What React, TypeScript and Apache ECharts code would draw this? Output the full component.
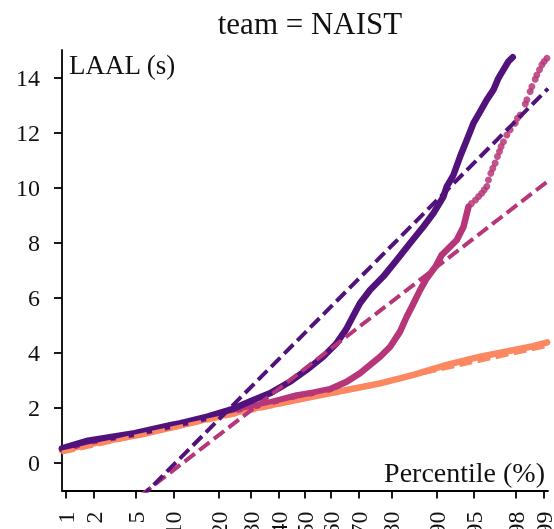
import React, { useEffect, useRef } from "react";
import * as echarts from "echarts";

// Percentile tick labels of the probability axis
const percentTicks = [1, 2, 5, 10, 20, 30, 40, 50, 60, 70, 80, 90, 95, 98, 99];
const yTicks = [0, 2, 4, 6, 8, 10, 12, 14];
const xRangePct = [0.9, 99.1];
const yRange = [-1, 15];

// [theoretical normal quantile, LAAL (s)]
const purplePts: number[][] = [
  [-2.366, 0.53], [-2.113, 0.81], [-1.658, 1.08], [-1.3, 1.38], [-1.22, 1.44],
  [-0.95, 1.68], [-0.7, 1.97], [-0.537, 2.23], [-0.342, 2.53], [-0.147, 2.95],
  [0.016, 3.38], [0.177, 3.86], [0.308, 4.35], [0.4, 4.85], [0.47, 5.35],
  [0.535, 5.8], [0.633, 6.28], [0.762, 6.77], [0.893, 7.37], [1.022, 7.98],
  [1.152, 8.58], [1.25, 9.07], [1.347, 9.67], [1.38, 10.04], [1.444, 10.45],
  [1.51, 11.13], [1.575, 11.73], [1.64, 12.34], [1.705, 12.76], [1.769, 13.19],
  [1.834, 13.55], [1.882, 13.97], [1.931, 14.28], [1.98, 14.58], [2.022, 14.74],
];

const magentaPts: number[][] = [
  [-2.366, 0.5], [-2.05, 0.8], [-1.65, 1.06], [-1.25, 1.38], [-0.95, 1.63],
  [-0.7, 1.9], [-0.406, 2.14], [-0.245, 2.29], [-0.082, 2.45], [0.08, 2.55],
  [0.243, 2.68], [0.405, 2.95], [0.535, 3.26], [0.63, 3.55], [0.731, 3.86],
  [0.829, 4.22], [0.925, 4.77], [0.99, 5.31], [1.05, 5.75], [1.12, 6.28],
  [1.18, 6.68], [1.27, 7.13], [1.33, 7.55], [1.478, 8.1], [1.543, 8.58],
  [1.592, 9.31],
];

const magentaTail: number[][] = [
  [1.62, 9.42], [1.66, 9.55], [1.69, 9.68], [1.72, 9.8], [1.745, 9.92], [1.77, 10.04],
  [1.786, 10.28], [1.809, 10.52], [1.828, 10.7], [1.851, 10.89], [1.873, 11.13],
  [1.893, 11.31], [1.909, 11.49], [1.932, 11.67], [1.965, 11.91], [1.997, 12.1],
  [2.046, 12.34], [2.068, 12.52], [2.095, 12.64], [2.144, 13.04], [2.16, 13.19],
  [2.192, 13.49], [2.209, 13.67], [2.241, 13.94], [2.257, 14.09], [2.283, 14.28],
  [2.306, 14.46], [2.328, 14.58], [2.355, 14.7],
];

const orangePts: number[][] = [
  [-2.366, 0.46], [-2.0, 0.76], [-1.6, 1.03], [-1.22, 1.36], [-0.895, 1.66],
  [-0.57, 1.92], [-0.245, 2.17], [0.08, 2.41], [0.405, 2.65], [0.732, 2.89],
  [1.056, 3.2], [1.38, 3.56], [1.705, 3.86], [2.029, 4.1], [2.195, 4.22],
  [2.357, 4.38],
];

// dashed reference (fit) lines, endpoints
const purpleFit: number[][] = [[-1.6, -1.27], [2.366, 13.6]];
const magentaFit: number[][] = [[-1.6, -1.18], [2.366, 10.24]];
const orangeFit: number[][] = [[-2.366, 0.38], [2.366, 4.26]];

const PURPLE = "#51127c";
const MAGENTA = "#b63679";
const ORANGE = "#fb8861";
const FONT = "'Liberation Serif', 'DejaVu Serif', serif";

function probit(p: number): number {
  const a = [-3.969683028665376e1, 2.209460984245205e2, -2.759285104469687e2, 1.38357751867269e2, -3.066479806614716e1, 2.506628277459239];
  const b = [-5.447609879822406e1, 1.615858368580409e2, -1.556989798598866e2, 6.680131188771972e1, -1.328068155288572e1];
  const c = [-7.784894002430293e-3, -3.223964580411365e-1, -2.400758277161838, -2.549732539343734, 4.374664141464968, 2.938163982698783];
  const d = [7.784695709041462e-3, 3.224671290700398e-1, 2.445134137142996, 3.754408661907416];
  const pl = 0.02425;
  let q: number, r: number;
  if (p < pl) {
    q = Math.sqrt(-2 * Math.log(p));
    return (((((c[0] * q + c[1]) * q + c[2]) * q + c[3]) * q + c[4]) * q + c[5]) / ((((d[0] * q + d[1]) * q + d[2]) * q + d[3]) * q + 1);
  }
  if (p <= 1 - pl) {
    q = p - 0.5;
    r = q * q;
    return ((((((a[0] * r + a[1]) * r + a[2]) * r + a[3]) * r + a[4]) * r + a[5]) * q) / (((((b[0] * r + b[1]) * r + b[2]) * r + b[3]) * r + b[4]) * r + 1);
  }
  q = Math.sqrt(-2 * Math.log(1 - p));
  return -(((((c[0] * q + c[1]) * q + c[2]) * q + c[3]) * q + c[4]) * q + c[5]) / ((((d[0] * q + d[1]) * q + d[2]) * q + d[3]) * q + 1);
}

export default function App() {
  const ref = useRef<HTMLDivElement>(null);
  useEffect(() => {
    if (!ref.current) return;
    const chart = echarts.init(ref.current, undefined, { renderer: "svg" });
    const tickZ = percentTicks.map((p) => probit(p / 100));
    const axisLine = { show: true, onZero: false, lineStyle: { color: "#000", width: 1.8 } };
    const axisTickBase = { show: true, inside: false, length: 8, lineStyle: { color: "#000", width: 1.8 } };
    const solid = (name: string, data: number[][], color: string) => ({
      name,
      type: "line",
      data,
      showSymbol: false,
      symbol: "none",
      lineStyle: { color, width: 6.5, cap: "round", join: "round" },
      z: 2,
    });
    const dashed = (name: string, data: number[][], color: string) => ({
      name,
      type: "line",
      data,
      showSymbol: false,
      symbol: "none",
      lineStyle: { color, width: 4, type: [13, 5.5] },
      z: 3,
    });
    chart.setOption({
      animation: false,
      title: {
        text: "team = NAIST",
        left: 305,
        top: 3,
        textAlign: "center",
        textStyle: { fontFamily: FONT, fontSize: 31, fontWeight: "normal", color: "#111" },
      },
      grid: { left: 62, right: 6, top: 50, bottom: 38.5, containLabel: false, outerBoundsMode: "none" },
      xAxis: {
        type: "value",
        min: probit(xRangePct[0] / 100),
        max: probit(xRangePct[1] / 100),
        name: "Percentile (%)",
        nameLocation: "end",
        nameGap: -3,
        nameTextStyle: { fontFamily: FONT, fontSize: 28, color: "#111", align: "right", verticalAlign: "bottom", padding: [0, 0, 4, 0] },
        axisLine,
        axisTick: { ...axisTickBase, customValues: tickZ },
        axisLabel: {
          customValues: tickZ,
          rotate: 90,
          margin: 21,
          fontFamily: FONT,
          fontSize: 24,
          color: "#111",
          formatter: (v: number) => {
            const i = tickZ.findIndex((t) => Math.abs(t - v) < 1e-6);
            return i >= 0 ? String(percentTicks[i]) : "";
          },
        },
        splitLine: { show: false },
      },
      yAxis: {
        type: "value",
        min: yRange[0],
        max: yRange[1],
        name: "LAAL (s)",
        nameLocation: "end",
        nameGap: 0,
        nameTextStyle: { fontFamily: FONT, fontSize: 27, color: "#111", align: "left", verticalAlign: "top", padding: [1, 0, 0, 7] },
        axisLine,
        axisTick: { ...axisTickBase, customValues: yTicks },
        axisLabel: { customValues: yTicks, margin: 22, fontFamily: FONT, fontSize: 24, color: "#111" },
        splitLine: { show: false },
      },
      series: [
        solid("orange", orangePts, ORANGE),
        solid("magenta", magentaPts, MAGENTA),
        {
          name: "magenta tail",
          type: "scatter",
          data: magentaTail,
          symbolSize: 7,
          itemStyle: { color: MAGENTA, opacity: 0.85 },
          z: 2,
        },
        solid("purple", purplePts, PURPLE),
        dashed("orange fit", orangeFit, ORANGE),
        dashed("magenta fit", magentaFit, MAGENTA),
        dashed("purple fit", purpleFit, PURPLE),
      ],
    });
    return () => chart.dispose();
  }, []);
  return <div ref={ref} style={{ position: "fixed", left: 0, top: 0, width: 554, height: 529 }} />;
}
